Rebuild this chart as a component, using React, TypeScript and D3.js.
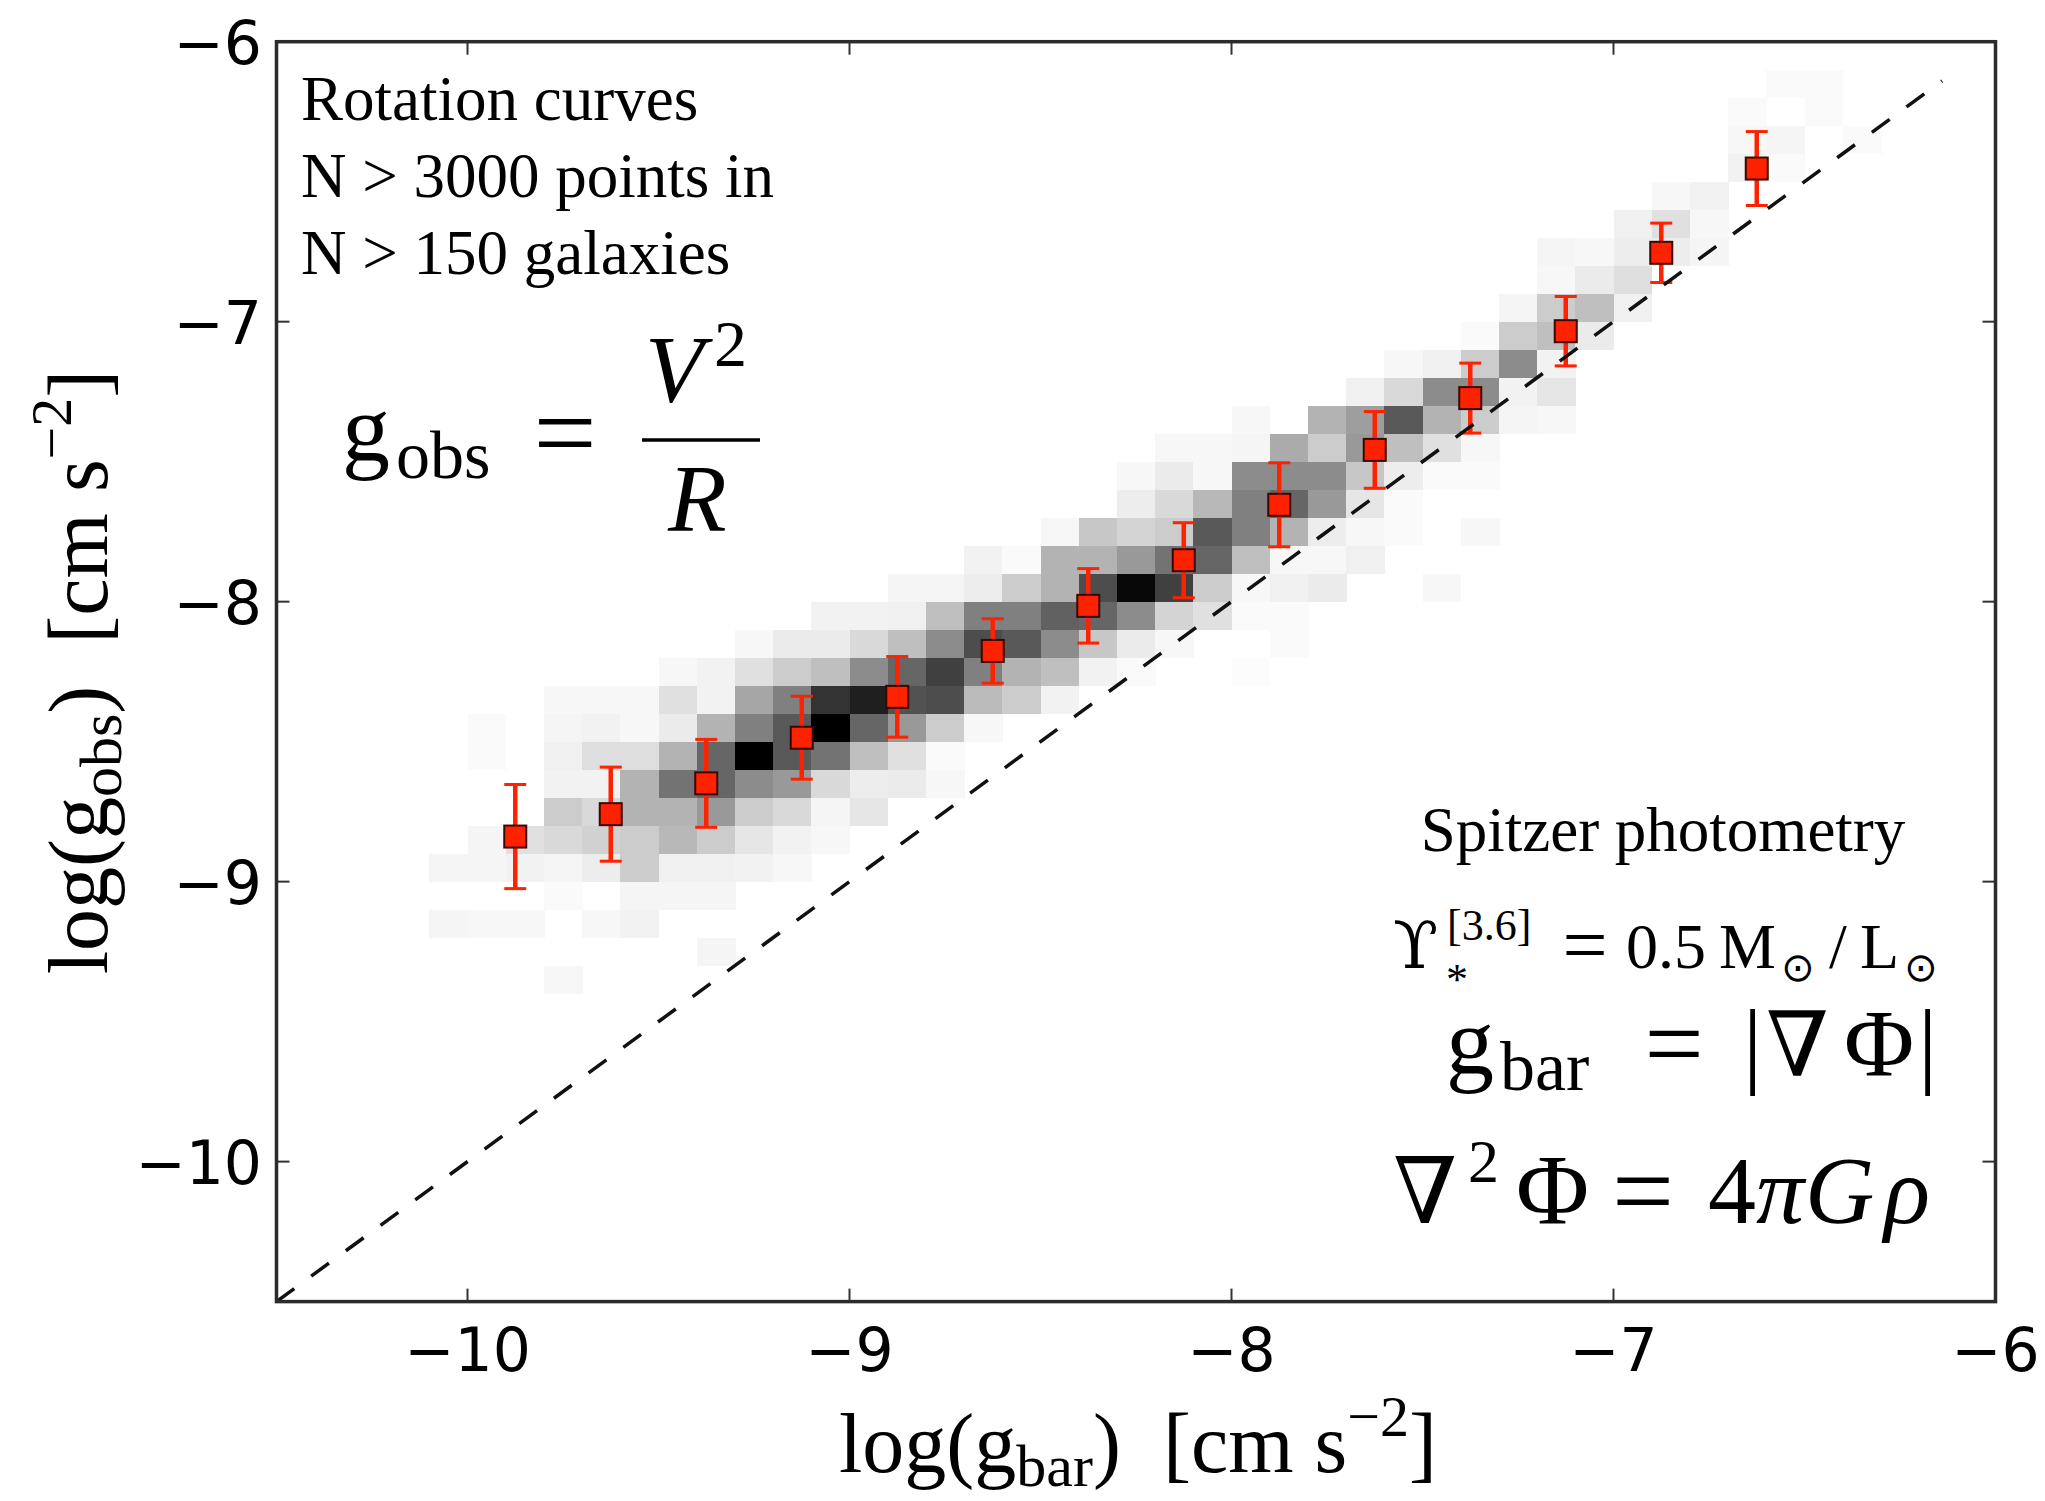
import React from 'react';
import * as d3 from 'd3';

const W = 2045;
const H = 1501;
const PLOT = { left: 276.5, right: 1995.5, top: 41.7, bottom: 1301.6 };

const X_DOMAIN: [number, number] = [-10.5, -6];
const Y_DOMAIN: [number, number] = [-10.5, -6];
const X_TICKS = [-10, -9, -8, -7, -6];
const Y_TICKS = [-10, -9, -8, -7, -6];

// 2D histogram (0.1 dex bins). For each column: left x edge, bottom y edge of first cell,
// and relative density of the cells going upward.
const BIN = 0.1;
const HIST_X_LEFT = [
  -10.1, -10.0, -9.9, -9.8, -9.7, -9.6, -9.5, -9.4, -9.3, -9.2, -9.1, -9.0, -8.9, -8.8,
  -8.7, -8.6, -8.5, -8.4, -8.3, -8.2, -8.1, -8.0, -7.9, -7.8, -7.7, -7.6, -7.5, -7.4,
  -7.3, -7.2, -7.1, -7.0, -6.9, -6.8, -6.7, -6.6, -6.5, -6.4,
];
const HIST_Y_START = [
  -9.2, -9.2, -9.2, -9.4, -9.2, -9.2, -9.1, -9.3, -9.0, -9.0, -8.9, -8.8, -8.7, -8.7,
  -8.5, -8.4, -8.4, -8.3, -8.3, -8.2, -8.1, -8.3, -8.2, -8.0, -7.9, -7.8, -8.0, -7.8,
  -7.4, -7.4, -7.1, -7.0, -6.8, -6.8, -6.5, -6.5, -6.3, -6.4,
];
const HIST_DENSITY = [
  [0.04, 0, 0.04],
  [0.03, 0, 0.04, 0.04, 0, 0, 0.02, 0.02],
  [0.03, 0, 0.05, 0.12],
  [0.03, 0, 0, 0.02, 0.04, 0.15, 0.2, 0.05, 0.06, 0.04, 0.03],
  [0.03, 0, 0.07, 0.18, 0.15, 0.05, 0.13, 0.05, 0.03],
  [0.05, 0.04, 0.2, 0.2, 0.3, 0.3, 0.13, 0.03, 0.03],
  [0.04, 0.06, 0.28, 0.3, 0.55, 0.3, 0.08, 0.12, 0.03],
  [0.04, 0, 0.04, 0.06, 0.2, 0.4, 0.6, 0.6, 0.3, 0.05, 0.05],
  [0.05, 0.1, 0.2, 0.45, 1.0, 0.5, 0.35, 0.12, 0.03],
  [0.03, 0.05, 0.15, 0.4, 0.65, 0.65, 0.5, 0.2, 0.08],
  [0.03, 0.04, 0.15, 0.55, 1.0, 0.8, 0.25, 0.08, 0.05],
  [0.1, 0.07, 0.25, 0.6, 0.88, 0.45, 0.15, 0.05],
  [0.08, 0.12, 0.4, 0.68, 0.6, 0.25, 0.06, 0.04],
  [0.03, 0.02, 0.2, 0.7, 0.75, 0.45, 0.25, 0.04],
  [0.03, 0.27, 0.5, 0.7, 0.5, 0.07, 0.05],
  [0.2, 0.3, 0.65, 0.5, 0.2, 0.02],
  [0.05, 0.25, 0.45, 0.62, 0.3, 0.3, 0.03],
  [0.05, 0.22, 0.6, 0.7, 0.3, 0.22],
  [0.02, 0.08, 0.45, 0.97, 0.4, 0.17, 0.07, 0.03],
  [0.03, 0.17, 0.75, 0.55, 0.2, 0.15, 0.08, 0.03],
  [0.12, 0.2, 0.6, 0.65, 0.28, 0.03, 0.03],
  [0.01, 0, 0.02, 0.03, 0.25, 0.5, 0.5, 0.45, 0.04, 0.03],
  [0.02, 0.02, 0.06, 0.03, 0.3, 0.6, 0.45, 0.33],
  [0.08, 0.03, 0.07, 0.4, 0.45, 0.2, 0.3],
  [0.06, 0.03, 0.1, 0.22, 0.4, 0.38, 0.06],
  [0.02, 0.02, 0.07, 0.25, 0.65, 0.15, 0.03],
  [0.03, 0, 0, 0, 0.02, 0.12, 0.3, 0.45, 0.06],
  [0.03, 0, 0.02, 0.03, 0.2, 0.45, 0.2, 0.02],
  [0.04, 0.05, 0.45, 0.2, 0.04],
  [0.03, 0.1, 0.05, 0.25, 0.2, 0.03, 0.04],
  [0.08, 0.25, 0.08, 0.03],
  [0.06, 0.13, 0.07, 0.06],
  [0.07, 0.12, 0.03],
  [0.04, 0.03, 0.05],
  [0.05, 0.03, 0.02],
  [0.02, 0.04, 0, 0.02],
  [0.02, 0.02],
  [0.02],
];

// Binned means with error bars
const POINT_X = [
  -9.875, -9.625, -9.375, -9.125, -8.875, -8.625, -8.375, -8.125, -7.875, -7.625, -7.375,
  -7.125, -6.875, -6.625,
];
const POINT_Y = [
  -8.839, -8.759, -8.649, -8.486, -8.34, -8.176, -8.015, -7.852, -7.654, -7.458, -7.273,
  -7.034, -6.754, -6.453,
];
const POINT_ERR = [
  0.186, 0.168, 0.157, 0.148, 0.144, 0.115, 0.133, 0.134, 0.15, 0.137, 0.125, 0.124, 0.106,
  0.132,
];

const ONE_TO_ONE = [-10.5, -6.14];

const SERIF = "'Liberation Serif', 'Times New Roman', 'DejaVu Serif', serif";
const SANS = "'DejaVu Sans', sans-serif";

const RED = '#ff2200';

function Txt(props: {
  x: number;
  y: number;
  size: number;
  italic?: boolean;
  anchor?: string;
  family?: string;
  children: React.ReactNode;
}) {
  return (
    <text
      x={props.x}
      y={props.y}
      fontSize={props.size}
      fontStyle={props.italic ? 'italic' : 'normal'}
      fontFamily={props.family || SERIF}
      textAnchor={props.anchor || 'start'}
      fill="#000"
    >
      {props.children}
    </text>
  );
}

export default function App() {
  const xs = d3.scaleLinear().domain(X_DOMAIN).range([PLOT.left, PLOT.right]);
  const ys = d3.scaleLinear().domain(Y_DOMAIN).range([PLOT.bottom, PLOT.top]);
  const grey = d3.scaleLinear<string>().domain([0, 1]).range(['#ffffff', '#000000']).clamp(true);

  const cells: React.ReactNode[] = [];
  HIST_X_LEFT.forEach((xl, i) => {
    const y0 = HIST_Y_START[i];
    HIST_DENSITY[i].forEach((v, j) => {
      if (v <= 0) return;
      const yb = y0 + j * BIN;
      const yt = yb + BIN;
      const px0 = xs(xl);
      const px1 = xs(xl + BIN);
      const py0 = ys(yt);
      const py1 = ys(yb);
      cells.push(
        <rect
          key={`c${i}-${j}`}
          x={px0}
          y={py0}
          width={px1 - px0 + 0.6}
          height={py1 - py0 + 0.6}
          fill={grey(v)}
        />
      );
    });
  });

  const line = d3
    .line<number>()
    .x((d) => xs(d))
    .y((d) => ys(d));
  const diag = line(ONE_TO_ONE) || '';

  const tickLen = 13;
  const capHalf = 11;
  const mk = 22;

  return (
    <svg
      width={W}
      height={H}
      viewBox={`0 0 ${W} ${H}`}
      style={{ position: 'absolute', left: 0, top: 0, background: '#fff' }}
    >
      <rect x={0} y={0} width={W} height={H} fill="#fff" />
      <g shapeRendering="crispEdges">{cells}</g>

      {/* error bars */}
      <g stroke={RED} fill="none">
        {POINT_X.map((x, i) => {
          const cx = xs(x);
          const yTop = ys(POINT_Y[i] + POINT_ERR[i]);
          const yBot = ys(POINT_Y[i] - POINT_ERR[i]);
          return (
            <g key={`e${i}`}>
              <line x1={cx} x2={cx} y1={yTop} y2={yBot} strokeWidth={4.5} />
              <line x1={cx - capHalf} x2={cx + capHalf} y1={yTop} y2={yTop} strokeWidth={3} />
              <line x1={cx - capHalf} x2={cx + capHalf} y1={yBot} y2={yBot} strokeWidth={3} />
            </g>
          );
        })}
      </g>

      {/* 1:1 line */}
      <path d={diag} stroke="#111" strokeWidth={3.5} strokeDasharray="22 21" fill="none" />

      {/* markers */}
      <g>
        {POINT_X.map((x, i) => (
          <rect
            key={`m${i}`}
            x={xs(x) - mk / 2}
            y={ys(POINT_Y[i]) - mk / 2}
            width={mk}
            height={mk}
            fill={RED}
            stroke="#3a0800"
            strokeWidth={2}
          />
        ))}
      </g>

      {/* ticks */}
      <g stroke="#333" strokeWidth={2}>
        {X_TICKS.map((t) => (
          <g key={`xt${t}`}>
            <line x1={xs(t)} x2={xs(t)} y1={PLOT.bottom} y2={PLOT.bottom - tickLen} />
            <line x1={xs(t)} x2={xs(t)} y1={PLOT.top} y2={PLOT.top + tickLen} />
          </g>
        ))}
        {Y_TICKS.map((t) => (
          <g key={`yt${t}`}>
            <line x1={PLOT.left} x2={PLOT.left + tickLen} y1={ys(t)} y2={ys(t)} />
            <line x1={PLOT.right} x2={PLOT.right - tickLen} y1={ys(t)} y2={ys(t)} />
          </g>
        ))}
      </g>

      {/* frame */}
      <rect
        x={PLOT.left}
        y={PLOT.top}
        width={PLOT.right - PLOT.left}
        height={PLOT.bottom - PLOT.top}
        fill="none"
        stroke="#2b2b2b"
        strokeWidth={3.5}
      />

      {/* tick labels */}
      <g fontFamily={SANS} fontSize={60} fill="#000">
        {X_TICKS.map((t) => (
          <text key={`xl${t}`} x={xs(t)} y={1371} textAnchor="middle">
            {`\u2212${Math.abs(t)}`}
          </text>
        ))}
        {Y_TICKS.map((t) => (
          <text key={`yl${t}`} x={262} y={ys(t) + 22} textAnchor="end">
            {`\u2212${Math.abs(t)}`}
          </text>
        ))}
      </g>

      {/* axis labels */}
      <text x={1138} y={1472} textAnchor="middle" fontFamily={SERIF} fontSize={84} fill="#000">
        log(g
        <tspan fontSize={60} dy={14}>
          bar
        </tspan>
        <tspan dy={-14}>)</tspan>
        {'\u2002[cm s'}
        <tspan fontSize={58} dy={-36}>
          {'\u22122'}
        </tspan>
        <tspan dy={36}>]</tspan>
      </text>
      <text
        transform="translate(107,672) rotate(-90)"
        x={0}
        y={0}
        textAnchor="middle"
        fontFamily={SERIF}
        fontSize={84}
        fill="#000"
      >
        log(g
        <tspan fontSize={60} dy={14}>
          obs
        </tspan>
        <tspan dy={-14}>)</tspan>
        {'\u2002[cm s'}
        <tspan fontSize={58} dy={-36}>
          {'\u22122'}
        </tspan>
        <tspan dy={36}>]</tspan>
      </text>

      {/* top-left annotation */}
      <Txt x={301} y={120} size={63}>Rotation curves</Txt>
      <Txt x={301} y={197} size={63}>N &gt; 3000 points in</Txt>
      <Txt x={301} y={274} size={63}>N &gt; 150 galaxies</Txt>

      {/* g_obs = V^2 / R */}
      <Txt x={342} y={461} size={96}>g</Txt>
      <Txt x={396} y={478} size={68}>obs</Txt>
      <Txt x={565} y={470} size={112} anchor="middle">=</Txt>
      <line x1={642} x2={760} y1={440} y2={440} stroke="#000" strokeWidth={3.5} />
      <Txt x={645} y={402} size={96} italic>V</Txt>
      <Txt x={714} y={366} size={66}>2</Txt>
      <Txt x={668} y={531} size={96} italic>R</Txt>

      {/* right annotations */}
      <Txt x={1663} y={851} size={63} anchor="middle">Spitzer photometry</Txt>

      <text x={1393} y={968} fontSize={66} fontFamily={SERIF} fill="#000">
        <tspan fontFamily="'DejaVu Serif', serif">{'\u03D2'}</tspan>
        <tspan x={1447} y={940} fontSize={44}>
          [3.6]
        </tspan>
        <tspan x={1446} y={994} fontSize={44}>
          *
        </tspan>
      </text>
      <Txt x={1585} y={972} size={80} anchor="middle">=</Txt>
      <Txt x={1626} y={968} size={64}>0.5</Txt>
      <Txt x={1719} y={968} size={64}>M</Txt>
      <Txt x={1781} y={981} size={40} family={SANS}>{'\u2299'}</Txt>
      <Txt x={1829} y={968} size={64}>/</Txt>
      <Txt x={1860} y={968} size={64}>L</Txt>
      <Txt x={1904} y={981} size={40} family={SANS}>{'\u2299'}</Txt>

      <Txt x={1446} y={1074} size={96}>g</Txt>
      <Txt x={1500} y={1090} size={70}>bar</Txt>
      <Txt x={1674} y={1079} size={105} anchor="middle">=</Txt>
      <Txt x={1743} y={1076} size={96}>|</Txt>
      <Txt x={1766} y={1076} size={90} family="'DejaVu Serif', serif">{'\u2207'}</Txt>
      <Txt x={1844} y={1076} size={96}>{'\u03A6'}</Txt>
      <Txt x={1918} y={1076} size={96}>|</Txt>

      <Txt x={1393} y={1223} size={92} family="'DejaVu Serif', serif">{'\u2207'}</Txt>
      <Txt x={1468} y={1182} size={62}>2</Txt>
      <Txt x={1516} y={1223} size={100}>{'\u03A6'}</Txt>
      <Txt x={1643} y={1228} size={110} anchor="middle">=</Txt>
      <Txt x={1708} y={1223} size={96}>4</Txt>
      <Txt x={1756} y={1223} size={96} italic>{'\u03C0'}</Txt>
      <Txt x={1805} y={1223} size={96} italic>G</Txt>
      <Txt x={1884} y={1223} size={96} italic>{'\u03C1'}</Txt>
    </svg>
  );
}
